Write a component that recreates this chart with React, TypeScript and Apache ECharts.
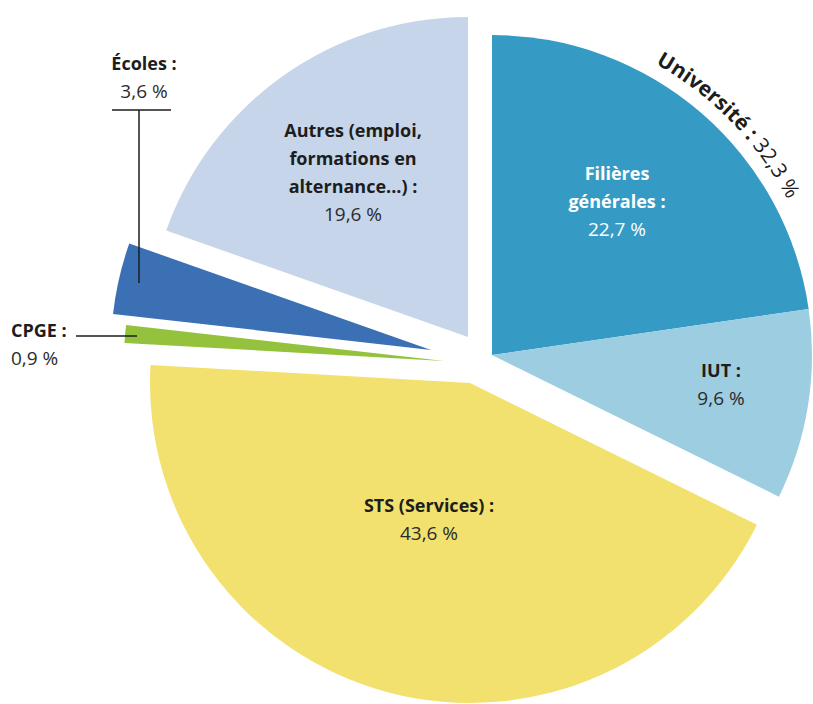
import React, { useEffect, useRef } from 'react';
import * as echarts from 'echarts';

// ---- Data ----
const categories = [
  'Filières générales',
  'IUT',
  'STS (Services)',
  'CPGE',
  'Écoles',
  'Autres (emploi, formations en alternance...)',
];
const values = [22.7, 9.6, 43.6, 0.9, 3.6, 19.6];
const groups = ['Université', 'Université', 'STS', 'CPGE', 'Écoles', 'Autres'];
const labelLines = [
  ['Filières', 'générales :'],
  ['IUT :'],
  ['STS (Services) :'],
  ['CPGE :'],
  ['Écoles :'],
  ['Autres (emploi,', 'formations en', 'alternance...) :'],
];
const groupTitle = 'Université :';

// ---- Styles / layout ----
const colors = ['#359BC4', '#9CCDE1', '#F2E16E', '#94C23C', '#3C70B5', '#C6D5EA'];
const R = 320;
const groupOrder = ['Université', 'STS', 'CPGE', 'Écoles', 'Autres'];
const groupCenters: Record<string, [number, number]> = {
  Université: [492, 355],
  STS: [470, 383],
  CPGE: [444, 361],
  Écoles: [431, 350],
  Autres: [468, 337],
};
// label anchor: x, first line y, align, colours
const labelLayout: { x: number; y: number; align: string; title: string; value: string }[] = [
  { x: 617, y: 173, align: 'center', title: '#ffffff', value: '#ffffff' },
  { x: 721, y: 370, align: 'center', title: '#1d1d1b', value: '#2b2b2b' },
  { x: 429, y: 505, align: 'center', title: '#1d1d1b', value: '#2b2b2b' },
  { x: 11, y: 330, align: 'left', title: '#1d1d1b', value: '#2b2b2b' },
  { x: 144, y: 63, align: 'center', title: '#1d1d1b', value: '#2b2b2b' },
  { x: 353, y: 130, align: 'center', title: '#1d1d1b', value: '#2b2b2b' },
];
const LINE_H = 28;
const FONT = '"Open Sans", "Noto Sans", sans-serif';
const FS = 18;
const FS_VALUE = 19;

const fmt = (v: number) => v.toFixed(1).replace('.', ',') + ' %';

function curvedTitle(): any[] {
  const total = values.reduce((s, v, i) => (groups[i] === 'Université' ? s + v : s), 0);
  const parts = [
    { text: groupTitle, weight: 'bold' },
    { text: ' ' + fmt(total), weight: 'normal' },
  ];
  const fs = 21;
  const canvas = document.createElement('canvas');
  const ctx = canvas.getContext('2d')!;
  const chars: { ch: string; w: number; weight: string }[] = [];
  parts.forEach((p) => {
    ctx.font = `${p.weight} ${fs}px ${FONT}`;
    for (const ch of p.text) chars.push({ ch, w: ctx.measureText(ch).width, weight: p.weight });
  });
  const totalW = chars.reduce((s, c) => s + c.w, 0);
  const [cx, cy] = groupCenters['Université'];
  const a0 = 29.3;
  const a1 = 62.3;
  const Rt = 342;
  let acc = 0;
  const out: any[] = [];
  chars.forEach((c) => {
    const mid = acc + c.w / 2;
    acc += c.w;
    if (c.ch === ' ') return;
    const a = ((a0 + ((a1 - a0) * mid) / totalW) * Math.PI) / 180;
    out.push({
      type: 'text',
      z: 100,
      x: cx + Rt * Math.sin(a),
      y: cy - Rt * Math.cos(a),
      rotation: -a,
      silent: true,
      style: {
        text: c.ch,
        fontSize: fs,
        fontWeight: c.weight,
        fontFamily: FONT,
        fill: '#1d1d1b',
        align: 'center',
        verticalAlign: 'middle',
      },
    });
  });
  return out;
}

function labelGraphics(): any[] {
  const out: any[] = [];
  categories.forEach((_, i) => {
    const L = labelLayout[i];
    const lines = labelLines[i];
    lines.forEach((t, k) => {
      out.push({
        type: 'text',
        z: 100,
        x: L.x,
        y: L.y + k * LINE_H,
        silent: true,
        style: {
          text: t,
          fontSize: FS,
          fontWeight: 'bold',
          fontFamily: FONT,
          fill: L.title,
          align: L.align,
          verticalAlign: 'middle',
        },
      });
    });
    out.push({
      type: 'text',
      z: 100,
      x: L.x,
      y: L.y + lines.length * LINE_H,
      silent: true,
      style: {
        text: fmt(values[i]),
        fontSize: FS_VALUE,
        fontWeight: 'normal',
        fontFamily: FONT,
        fill: L.value,
        align: L.align,
        verticalAlign: 'middle',
      },
    });
  });
  // leader lines
  const ls = { stroke: '#1d1d1b', lineWidth: 1.5 };
  out.push({ type: 'line', z: 100, silent: true, shape: { x1: 112, y1: 110, x2: 171, y2: 110 }, style: ls });
  out.push({ type: 'line', z: 100, silent: true, shape: { x1: 139, y1: 110, x2: 139, y2: 283 }, style: ls });
  out.push({ type: 'line', z: 100, silent: true, shape: { x1: 76, y1: 336, x2: 137, y2: 336 }, style: ls });
  return out;
}

export default function App() {
  const ref = useRef<HTMLDivElement>(null);
  useEffect(() => {
    if (!ref.current) return;
    const chart = echarts.init(ref.current, undefined, { renderer: 'svg' });
    const series = groupOrder.map((g) => ({
      type: 'pie',
      name: g,
      center: groupCenters[g],
      radius: [0, R],
      startAngle: 90,
      clockwise: true,
      silent: true,
      avoidLabelOverlap: false,
      label: { show: false },
      labelLine: { show: false },
      emphasis: { disabled: true },
      itemStyle: { borderWidth: 0 },
      data: values.map((v, i) => ({
        value: v,
        name: categories[i],
        itemStyle: {
          color: groups[i] === g ? colors[i] : 'rgba(0,0,0,0)',
          borderWidth: 0,
        },
      })),
    }));
    chart.setOption({
      animation: false,
      backgroundColor: '#ffffff',
      series,
      graphic: { elements: [...labelGraphics(), ...curvedTitle()] },
    });
    return () => chart.dispose();
  }, []);
  return (
    <div
      ref={ref}
      style={{ position: 'fixed', left: 0, top: 0, width: 813, height: 704 }}
    />
  );
}
